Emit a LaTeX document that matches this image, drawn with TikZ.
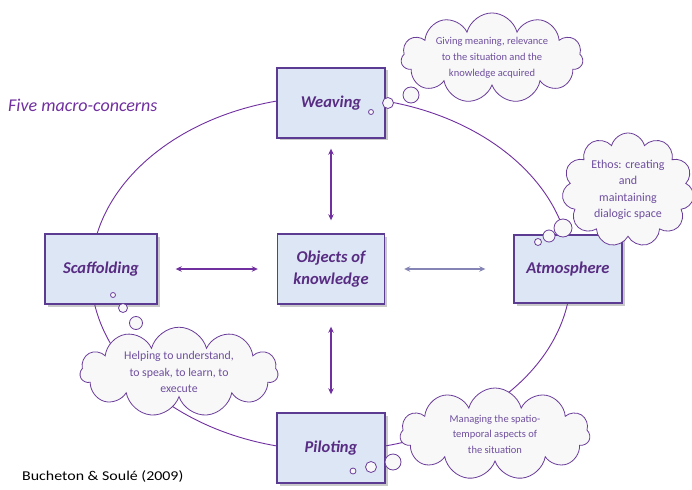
\documentclass[tikz,border=0pt]{standalone}
\usepackage{fontspec}
\usepackage{graphicx}
\setmainfont{Carlito}
\usetikzlibrary{shapes.symbols,shadows,arrows.meta}
\definecolor{boxfill}{HTML}{DCE6F4}
\definecolor{boxline}{HTML}{5B3C92}
\definecolor{boxtext}{HTML}{582C83}
\definecolor{purp}{HTML}{7030A0}
\definecolor{greyarrow}{HTML}{8585B5}
\definecolor{cloudfill}{HTML}{F8F8F8}
\definecolor{cloudline}{HTML}{6A3D9A}
\definecolor{cloudtext}{HTML}{6E4E9E}
\begin{document}
\begin{tikzpicture}[x=1pt,y=-1pt,
 concern/.style={draw=boxline, line width=1.4pt, fill=boxfill, minimum width=108pt, minimum height=70pt,
   font=\fontsize{16.5}{22}\selectfont\bfseries\itshape, text=boxtext, align=center, inner sep=0pt,
   drop shadow={shadow xshift=2.5pt, shadow yshift=-2.5pt, opacity=0.35, fill=black!60}},
 thought/.style={cloud, cloud puffs=11, cloud ignores aspect, draw=cloudline, line width=0.8pt,
   fill=cloudfill, text=cloudtext, align=center, inner sep=0pt},
 bubble/.style={circle, draw=cloudline, line width=0.8pt, fill=cloudfill, inner sep=0pt},
 dbl/.style={{Stealth[length=6pt,width=5.5pt]}-{Stealth[length=6pt,width=5.5pt]}, line width=1.4pt, draw=purp},
 dblgrey/.style={dbl, draw=greyarrow}]
\useasboundingbox (0,0) rectangle (692,489);
\fill[white] (0,0) rectangle (692,489);
\coordinate (ctr) at (331,273.5);
\draw[purp, line width=0.9pt] (ctr) ellipse [x radius=240, y radius=177];

\node[concern] (weav) at (331,103) {Weaving};
\node[concern, minimum width=112pt] (scaf) at (101,269) {Scaffolding};
\node[concern, minimum width=107pt] (obj) at (331,269) {Objects of\\knowledge};
\node[concern, minimum height=68pt] (atm) at (568,269) {Atmosphere};
\node[concern] (pil) at (331,448) {Piloting};

\draw[dbl, shorten <=13pt, shorten >=10pt] (obj) -- (weav);
\draw[dbl, shorten <=22pt, shorten >=18pt] (obj) -- (pil);
\draw[dbl, shorten <=18pt, shorten >=19pt] (scaf) -- (obj);
\draw[dblgrey, shorten <=19pt, shorten >=28pt] (obj) -- (atm);

\node[thought, minimum width=182pt, minimum height=88pt, font=\fontsize{10.5}{16}\selectfont] (c1) at (492,58)
  {Giving meaning, relevance\\to the situation and the\\knowledge acquired};
\node[bubble, minimum size=5pt] (b11) at (371,112) {};
\node[bubble, minimum size=11pt] (b12) at (388,103) {};
\node[bubble, minimum size=16pt] (b13) at (411,95) {};

\node[thought, minimum width=132pt, minimum height=114pt, font=\fontsize{12}{16.5}\selectfont] (c2) at (628,190)
  {Ethos: creating\\and\\maintaining\\dialogic space};
\node[bubble, minimum size=7pt] (b21) at (538,242) {};
\node[bubble, minimum size=12pt] (b22) at (549,236) {};
\node[bubble, minimum size=18pt] (b23) at (563,228) {};

\node[thought, minimum width=198pt, minimum height=76pt, font=\fontsize{11.8}{16.5}\selectfont] (c3) at (179,372)
  {Helping to understand,\\to speak, to learn, to\\execute};
\node[bubble, minimum size=5pt] (b31) at (113,295) {};
\node[bubble, minimum size=9pt] (b32) at (123,308) {};
\node[bubble, minimum size=13pt] (b33) at (136,323) {};

\node[thought, minimum width=190pt, minimum height=92pt, font=\fontsize{10.5}{15.5}\selectfont] (c4) at (495,434)
  {Managing the spatio-\\temporal aspects of\\the situation};
\node[bubble, minimum size=6pt] (b41) at (353,471) {};
\node[bubble, minimum size=11pt] (b42) at (371,467) {};
\node[bubble, minimum size=16pt] (b43) at (393,462) {};

\node[anchor=base west, inner sep=0pt, text=purp, font=\fontsize{18}{21}\selectfont\itshape] (title) at (8,112) {Five macro-concerns};
\node[anchor=base west, inner sep=0pt, font=\fontsize{13.5}{16}\selectfont] (src) at (22,480) {\scalebox{1.18}[1]{Bucheton \& Soulé (2009)}};
\end{tikzpicture}
\end{document}
